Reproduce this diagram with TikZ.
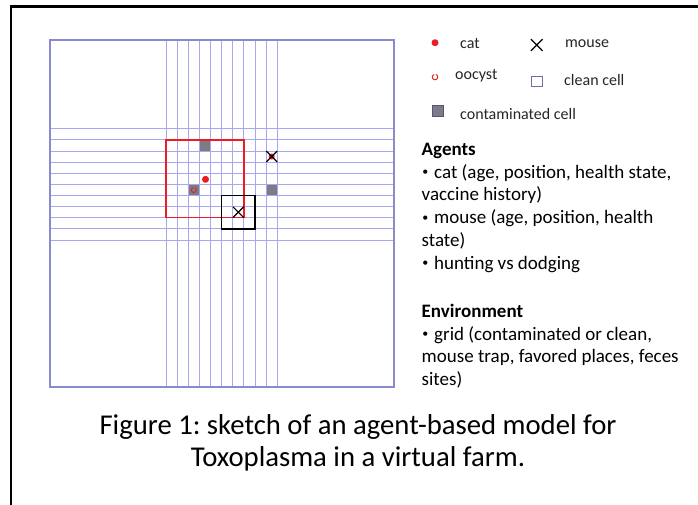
\documentclass[tikz,border=0pt]{standalone}
\usepackage{fontspec}
\setmainfont{Carlito}
\usetikzlibrary{shapes.misc}
\frenchspacing
\definecolor{gridblue}{RGB}{168,168,238}
\definecolor{framepurple}{RGB}{138,138,208}
\definecolor{cellgray}{RGB}{124,124,134}
\definecolor{catred}{RGB}{236,28,36}
% small list bullet followed by its gap
\newcommand\listdot{\makebox[12.5pt][l]{\hspace{0.6pt}\raisebox{2.6pt}{\fontsize{12}{12}\selectfont•}}}
\tikzset{
  gridline/.style={draw=gridblue, line width=0.9pt},
  gridframe/.style={draw=framepurple, line width=1.4pt},
  contam/.style={rectangle, fill=cellgray, minimum size=10.4pt, inner sep=0pt},
  catdot/.style={circle, fill=catred, minimum size=7pt, inner sep=0pt},
  mousex/.style={cross out, draw=black, minimum size=#1, inner sep=0pt, line width=1.3pt},
  oocystring/.style={draw=catred, line width=0.9pt},
  catrange/.style={draw=catred, line width=1.4pt},
  mouserange/.style={draw=black, line width=1.3pt},
  pageframe/.style={fill=black},
  legtext/.style={anchor=base west, inner sep=0pt, font=\fontsize{16}{19}\selectfont, text=black!85},
  bodytext/.style={anchor=base west, inner sep=0pt, font=\fontsize{19}{22.7}\selectfont},
  headtext/.style={bodytext, font=\fontsize{19}{22.7}\selectfont\bfseries},
  captext/.style={anchor=base, inner sep=0pt, font=\fontsize{28.7}{32}\selectfont},
}
\begin{document}
\begin{tikzpicture}[x=1pt, y=-1pt]
\useasboundingbox (0,0) rectangle (698,505);
\fill[white] (0,0) rectangle (698,505);

% outer frame: top and left edges as solid bars (the others lie past the page)
\path[pageframe] (9.8,4.6) rectangle (698,7.6);
\path[pageframe] (9.8,4.6) rectangle (12.2,505);

% the farm grid
\foreach \i in {0,...,10}
  \draw[gridline] ({166+11.13*\i},40) -- ({166+11.13*\i},387);
\foreach \j in {0,...,10}
  \draw[gridline] (50,{128.7+11.13*\j}) -- (394,{128.7+11.13*\j});
\draw[gridframe] (50,40) rectangle (394,387);

% agents on the fine part of the grid, in cell units
\begin{scope}[shift={(166,128.7)}, x=11.13pt, y=-11.13pt]
  \node[contam] (cellA) at (3.5,1.5) {};
  \node[contam] (cellB) at (2.5,5.5) {};
  \node[contam] (cellC) at (9.5,5.5) {};
  \draw[catrange] (0,1) rectangle (7,8);
  \draw[mouserange] (5,6) rectangle (8,9);
  \coordinate (ooc) at (2.5,5.5);
  \draw[oocystring] ([shift={(70:2.6pt)}]ooc) arc[start angle=70, end angle=-250, radius=2.6pt];
  \node[catdot] (cat) at (3.55,4.55) {};
  \node[catdot, minimum size=6pt] (mouseAred) at (9.5,2.5) {};
  \node[mousex=9.5pt] (mouseA) at (9.5,2.5) {};
  \node[mousex=9.5pt, line width=1.1pt] (mouseB) at (6.5,7.5) {};
\end{scope}

% legend
\node[catdot] (legcat) at (435,42.7) {};
\node[legtext] (legcattxt) at (460,48.3) {cat};
\node[mousex=10.5pt, line width=1.2pt] (legmouse) at (536.7,45) {};
\node[legtext] (legmousetxt) at (565,47.5) {mouse};
\coordinate (legooc) at (435,77);
\draw[oocystring] ([shift={(70:2.8pt)}]legooc) arc[start angle=70, end angle=-250, radius=2.8pt];
\node[legtext] (legooctxt) at (455,80) {oocyst};
\node[rectangle, draw=framepurple!80!black, line width=1pt, fill=white, minimum size=10.5pt, inner sep=0pt] (legclean) at (537,81.7) {};
\node[legtext] (legcleantxt) at (564,86) {clean cell};
\node[contam, draw=framepurple!60!black, line width=0.6pt, minimum size=11pt] (legcont) at (437.7,110.8) {};
\node[legtext] (legconttxt) at (460,119.3) {contaminated cell};

% description
\node[headtext] (agh) at (421.5,155.5) {Agents};
\node[bodytext] (ag1) at (421.5,178.2) {\listdot cat (age, position, health state,};
\node[bodytext] (ag2) at (421.5,200.9) {vaccine history)};
\node[bodytext] (ag3) at (421.5,223.6) {\listdot mouse (age, position, health};
\node[bodytext] (ag4) at (421.5,246.3) {state)};
\node[bodytext] (ag5) at (421.5,269.0) {\listdot hunting vs dodging};
\node[headtext] (envh) at (421.5,317.5) {Environment};
\node[bodytext] (env1) at (421.5,340.2) {\listdot grid (contaminated or clean,};
\node[bodytext] (env2) at (421.5,362.9) {mouse trap, favored places, feces};
\node[bodytext] (env3) at (421.5,385.6) {sites)};

% caption
\node[captext] (cap1) at (358,434) {Figure 1: sketch of an agent-based model for};
\node[captext] (cap2) at (358,466) {Toxoplasma in a virtual farm.};
\end{tikzpicture}
\end{document}
